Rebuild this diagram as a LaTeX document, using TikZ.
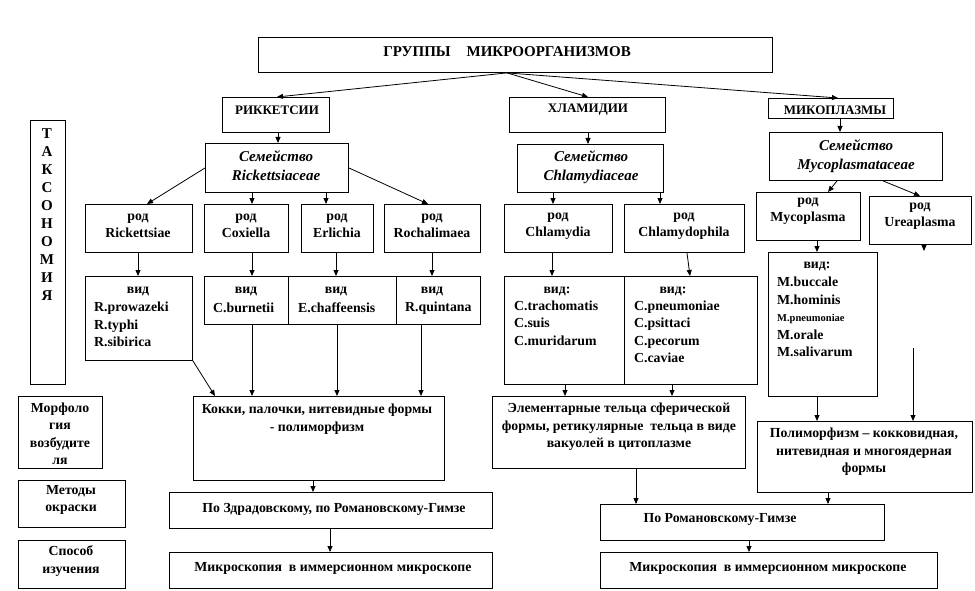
\documentclass[tikz,border=0pt]{standalone}
\usepackage{fontspec}
\setmainfont{Liberation Serif}
\usetikzlibrary{arrows.meta}
\tikzset{
 bx/.style={draw, line width=0.9pt, rectangle, inner sep=0, anchor=north west},
 txt/.style={inner sep=0, align=center, font=\fontsize{13.8}{17.5}\selectfont\bfseries},
 hdr/.style={inner sep=0, align=center, font=\fontsize{13}{17}\selectfont\bfseries},
 ttl/.style={inner sep=0, align=center, font=\fontsize{15}{17}\selectfont\bfseries},
 fam/.style={inner sep=0, align=center, font=\fontsize{15}{19}\selectfont\bfseries\itshape},
 ltxt/.style={inner sep=0, align=left, anchor=west, font=\fontsize{13.8}{17.5}\selectfont\bfseries},
 tax/.style={inner sep=0, align=center, font=\fontsize{15}{18}\selectfont\bfseries},
 arr/.style={line width=0.8pt, -{Triangle[length=6pt,width=5pt]}}
}
\begin{document}
\begin{tikzpicture}[x=1pt,y=-1pt]
\useasboundingbox (0,0) rectangle (975,591);
% ---------- boxes ----------
\node[bx, minimum width=514pt, minimum height=35pt] (title) at (258,37) {};
\node[bx, minimum width=107pt, minimum height=35pt] (rick) at (222,97) {};
\node[bx, minimum width=156pt, minimum height=35pt] (chla) at (509,97) {};
\node[bx, minimum width=125pt, minimum height=20pt] (myco) at (768,98) {};
\node[bx, minimum width=143pt, minimum height=49pt] (frick) at (205,143) {};
\node[bx, minimum width=146pt, minimum height=48pt] (fchla) at (517,144) {};
\node[bx, minimum width=173pt, minimum height=48pt] (fmyco) at (769,132) {};
\node[bx, minimum width=107pt, minimum height=48pt] (gR) at (85,204) {};
\node[bx, minimum width=84pt, minimum height=48pt] (gC) at (204,204) {};
\node[bx, minimum width=72pt, minimum height=48pt] (gE) at (301,204) {};
\node[bx, minimum width=96pt, minimum height=48pt] (gRo) at (384,204) {};
\node[bx, minimum width=108pt, minimum height=48pt] (gCh) at (504,204) {};
\node[bx, minimum width=120pt, minimum height=48pt] (gCp) at (624,204) {};
\node[bx, minimum width=104pt, minimum height=48pt] (gM) at (756,192) {};
\node[bx, minimum width=102pt, minimum height=48pt] (gU) at (869,196) {};
\node[bx, minimum width=107pt, minimum height=84pt] (sR) at (85,276) {};
\node[bx, minimum width=84pt, minimum height=48pt] (sC) at (204,276) {};
\node[bx, minimum width=108pt, minimum height=48pt] (sE) at (288,276) {};
\node[bx, minimum width=84pt, minimum height=48pt] (sRo) at (396,276) {};
\node[bx, minimum width=120pt, minimum height=108pt] (sCh) at (504,276) {};
\node[bx, minimum width=133pt, minimum height=108pt] (sCp) at (624,276) {};
\node[bx, minimum width=109pt, minimum height=144pt] (sM) at (768,252) {};
\node[bx, minimum width=35pt, minimum height=264pt] (tax) at (30,120) {};
\node[bx, minimum width=84pt, minimum height=72pt] (morph) at (18,396) {};
\node[bx, minimum width=107pt, minimum height=47pt] (meth) at (18,480) {};
\node[bx, minimum width=107pt, minimum height=48pt] (spos) at (18,540) {};
\node[bx, minimum width=251pt, minimum height=84pt] (kokki) at (193,396) {};
\node[bx, minimum width=253pt, minimum height=72pt] (elem) at (492,396) {};
\node[bx, minimum width=215pt, minimum height=71pt] (poly) at (757,421) {};
\node[bx, minimum width=323pt, minimum height=36pt] (zdr) at (169,492) {};
\node[bx, minimum width=323pt, minimum height=36pt] (micL) at (169,552) {};
\node[bx, minimum width=284pt, minimum height=36pt] (rom) at (600,504) {};
\node[bx, minimum width=337pt, minimum height=36pt] (micR) at (600,552) {};
% ---------- texts ----------
\node[ttl] (title-t) at (507,52) {ГРУППЫ\hspace{16pt}МИКРООРГАНИЗМОВ};
\node[hdr] (rick-t) at (277,110) {РИККЕТСИИ};
\node[hdr] (chla-t) at (588,110) {ХЛАМИДИИ};
\node[hdr] (myco-t) at (835,110) {МИКОПЛАЗМЫ};
\node[fam] (frick-t) at (276,166) {Семейство\\Rickettsiaceae};
\node[fam] (fchla-t) at (591,167) {Семейство\\Chlamydiaceae};
\node[fam] (fmyco-t) at (856,156) {Семейство\\Mycoplasmataceae};
\node[txt] (gR-t) at (138,226) {род\\Rickettsiae};
\node[txt] (gC-t) at (246,226) {род\\Coxiella};
\node[txt] (gE-t) at (337,226) {род\\Erlichia};
\node[txt] (gRo-t) at (432,226) {род\\Rochalimaea};
\node[txt] (gCh-t) at (558,226) {род\\Chlamydia};
\node[txt] (gCp-t) at (684,226) {род\\Chlamydophila};
\node[txt] (gM-t) at (808,211) {род\\Mycoplasma};
\node[txt] (gU-t) at (920,216) {род\\Ureaplasma};
\node[txt] (sR-h) at (138,292) {вид};
\node[ltxt] (sR-l) at (94,324.5) {R.prowazeki\\R.typhi\\R.sibirica};
\node[txt] (sC-h) at (246,292) {вид};
\node[ltxt] (sC-l) at (213,308) {C.burnetii};
\node[txt] (sE-h) at (336,292) {вид};
\node[ltxt] (sE-l) at (298,308) {E.chaffeensis};
\node[txt] (sRo-h) at (432,292) {вид};
\node[ltxt] (sRo-l) at (405,308) {R.quintana};
\node[txt] (sCh-h) at (557,291) {вид:};
\node[ltxt] (sCh-l) at (514,323) {C.trachomatis\\C.suis\\C.muridarum};
\node[txt] (sCp-h) at (673,291) {вид:};
\node[ltxt] (sCp-l) at (634,332) {C.pneumoniae\\C.psittaci\\C.pecorum\\C.caviae};
\node[txt] (sM-h) at (817,266) {вид:};
\node[ltxt] (sM-l) at (777,317) {M.buccale\\M.hominis\\{\fontsize{10.5}{12}\selectfont M.pneumoniae}\\M.orale\\M.salivarum};
\node[tax] (tax-t) at (47,215) {Т\\А\\К\\С\\О\\Н\\О\\М\\И\\Я};
\node[txt] (morph-t) at (60,434) {Морфоло\\гия\\возбудите\\ля};
\node[txt] (meth-t) at (71,500) {Методы\\окраски};
\node[txt] (spos-t) at (71,561) {Способ\\изучения};
\node[txt] (kokki-t) at (317,419) {Кокки, палочки, нитевидные формы\\- полиморфизм};
\node[txt] (elem-t) at (619,427) {Элементарные тельца сферической\\формы, ретикулярные\ \ тельца в виде\\вакуолей в цитоплазме};
\node[txt] (poly-t) at (864,452) {Полиморфизм – кокковидная,\\нитевидная и многоядерная\\формы};
\node[txt] (zdr-t) at (334,509.5) {По Здрадовскому, по Романовскому-Гимзе};
\node[txt] (micL-t) at (333,568.5) {Микроскопия\ \ в иммерсионном микроскопе};
\node[txt] (rom-t) at (720,519.5) {По Романовскому-Гимзе};
\node[txt] (micR-t) at (768,568.5) {Микроскопия\ \ в иммерсионном микроскопе};
% ---------- connectors ----------
\draw[arr] (title.south -| 507,0) -- (rick.north -| 277,0);
\draw[arr] (title.south -| 507,0) -- (chla.north -| 588,0);
\draw[arr] (title.south -| 507,0) -- (myco.north -| 838,0);
\draw[arr] (rick.south -| 278,0) -- (frick.north -| 278,0);
\draw[arr] (chla.south -| 588,0) -- (fchla.north -| 588,0);
\draw[arr] (myco.south -| 840,0) -- (fmyco.north -| 840,0);
\draw[arr] (frick.west) -- (gR.north -| 147,0);
\draw[arr] (frick.south -| 252,0) -- (gC.north -| 252,0);
\draw[arr] (frick.south -| 326,0) -- (gE.north -| 326,0);
\draw[arr] (frick.east) -- (gRo.north -| 428,0);
\draw[arr] (fchla.south -| 553,0) -- (gCh.north -| 553,0);
\draw[arr] (fchla.south -| 660,0) -- (gCp.north -| 660,0);
\draw[arr] (fmyco.south -| 837,0) -- (gM.north -| 828,0);
\draw[arr] (fmyco.south -| 883,0) -- (gU.north -| 920,0);
\draw[arr] (gR.south -| 138,0) -- (sR.north -| 138,0);
\draw[arr] (gC.south -| 252,0) -- (sC.north -| 252,0);
\draw[arr] (gE.south -| 336,0) -- (sE.north -| 336,0);
\draw[arr] (gRo.south -| 432,0) -- (sRo.north -| 432,0);
\draw[arr] (gCh.south -| 552,0) -- (sCh.north -| 552,0);
\draw[arr] (gCp.south -| 687,0) -- (sCp.north -| 690,0);
\draw[arr] (gM.south -| 817,0) -- (sM.north -| 817,0);
\coordinate (uEnd) at (924,251);
\draw[arr] (gU.south -| 924,0) -- (uEnd);
\draw[arr] (sR.south east) -- (kokki.north -| 215,0);
\draw[arr] (sC.south -| 252,0) -- (kokki.north -| 252,0);
\draw[arr] (sE.south -| 337,0) -- (kokki.north -| 337,0);
\draw[arr] (sRo.south -| 421,0) -- (kokki.north -| 421,0);
\draw[arr] (sCh.south -| 565,0) -- (elem.north -| 565,0);
\draw[arr] (sCp.south -| 672,0) -- (elem.north -| 672,0);
\draw[arr] (sM.south -| 817,0) -- (poly.north -| 817,0);
\coordinate (uStart) at (913,348);
\draw[arr] (uStart) -- (poly.north -| 913,0);
\draw[arr] (kokki.south -| 313,0) -- (zdr.north -| 313,0);
\draw[arr] (zdr.south -| 330,0) -- (micL.north -| 330,0);
\draw[arr] (elem.south -| 636,0) -- (rom.north -| 636,0);
\draw[arr] (poly.south -| 828,0) -- (rom.north -| 828,0);
\draw[arr] (rom.south -| 749,0) -- (micR.north -| 749,0);
\end{tikzpicture}
\end{document}
